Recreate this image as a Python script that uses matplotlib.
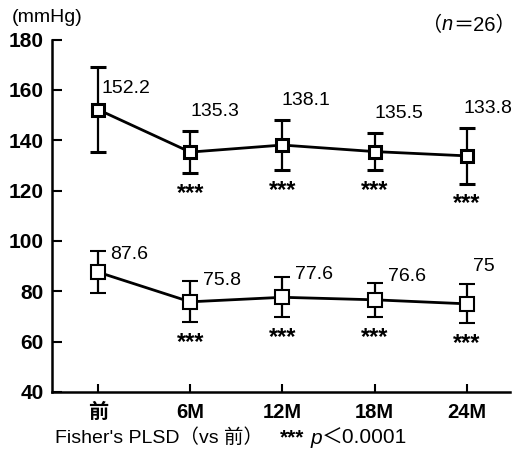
import matplotlib
matplotlib.use('Agg')
import matplotlib.pyplot as plt

plt.rcParams['font.family'] = ['Liberation Sans', 'Noto Sans CJK JP', 'DejaVu Sans']

# ---- data ----
categories = ['前', '6M', '12M', '18M', '24M']
systolic = [152.2, 135.3, 138.1, 135.5, 133.8]
systolic_sd = [17.0, 8.5, 10.0, 7.5, 11.0]
diastolic = [87.6, 75.8, 77.6, 76.6, 75.0]
diastolic_sd = [8.3, 8.2, 8.0, 6.8, 7.7]
systolic_labels = ['152.2', '135.3', '138.1', '135.5', '133.8']
diastolic_labels = ['87.6', '75.8', '77.6', '76.6', '75']
significant = [False, True, True, True, True]
yticks = [40, 60, 80, 100, 120, 140, 160, 180]

# ---- layout (label offsets: dx in category units, dy in data units) ----
sys_dx = [0.04, 0.0, -0.01, 0.0, -0.04]
sys_dy = [8.4, 16.1, 17.7, 15.1, 18.8]
dia_dx = [0.13, 0.14, 0.14, 0.14, 0.065]
dia_dy = [7.1, 8.6, 9.1, 9.3, 14.9]

fig = plt.figure(figsize=(5.19, 4.66), dpi=100)
ax = fig.add_axes([0.1, 0.159, 0.883, 0.756])
x = list(range(len(categories)))

for vals, sds, ms, mew in [(systolic, systolic_sd, 8, 2.2), (diastolic, diastolic_sd, 9.5, 1.5)]:
    ax.errorbar(x, vals, yerr=sds, color='black', lw=2, elinewidth=1.6,
                capsize=6, capthick=1.6, marker='s', ms=ms, mfc='white',
                mec='black', mew=mew, zorder=3)

for i in x:
    ax.text(i + sys_dx[i], systolic[i] + sys_dy[i], systolic_labels[i],
            ha='left', va='center', fontsize=14)
    ax.text(i + dia_dx[i], diastolic[i] + dia_dy[i], diastolic_labels[i],
            ha='left', va='center', fontsize=14)
    if significant[i]:
        for vals, sds in [(systolic, systolic_sd), (diastolic, diastolic_sd)]:
            ax.text(i, vals[i] - sds[i] - 8.0, '***', ha='center', va='center',
                    fontsize=17, fontweight='bold')

ax.set_xlim(-0.5, 4.47)
ax.set_ylim(40, 180)
ax.set_yticks(yticks)
ax.set_xticks(x)
ax.set_xticklabels(categories, fontsize=14.5, fontweight='bold')
ax.set_yticklabels([str(t) for t in yticks], fontsize=15, fontweight='bold')
ax.tick_params(axis='y', direction='in', length=7, width=1.5, pad=6)
ax.tick_params(axis='x', direction='in', length=6, width=1.5, pad=8)
for s in ['top', 'right']:
    ax.spines[s].set_visible(False)
for s in ['left', 'bottom']:
    ax.spines[s].set_linewidth(1.8)

fig.text(12 / 519, 1 - 17 / 466, '(mmHg)', ha='left', va='center', fontsize=14)


def pieces(x0, y0, parts, right=False):
    fig.canvas.draw()
    r = fig.canvas.get_renderer()
    made = []
    xs = x0
    for txt, kw in parts:
        t = fig.text(xs, y0, txt, ha='left', va='center', **kw)
        bb = t.get_window_extent(r)
        xs += bb.width / fig.bbox.width
        made.append(t)
    if right:
        shift = xs - x0
        for t in made:
            px, py = t.get_position()
            t.set_position((px - shift, py))
    return xs


pieces(516 / 519, 1 - 25 / 466, [('（', dict(fontsize=14.5)),
                                  ('n', dict(fontsize=14.5, style='italic')),
                                  ('＝26）', dict(fontsize=14.5))], right=True)
pieces(55 / 519, 1 - 438 / 466, [("Fisher's PLSD（vs 前）", dict(fontsize=14))])
pieces(280 / 519, 1 - 438 / 466, [('***', dict(fontsize=15, fontweight='bold')),
                                   (' ', dict(fontsize=15)),
                                   ('p', dict(fontsize=15, style='italic')),
                                   ('＜0.0001', dict(fontsize=15))])

fig.savefig('out.png', dpi=100)
